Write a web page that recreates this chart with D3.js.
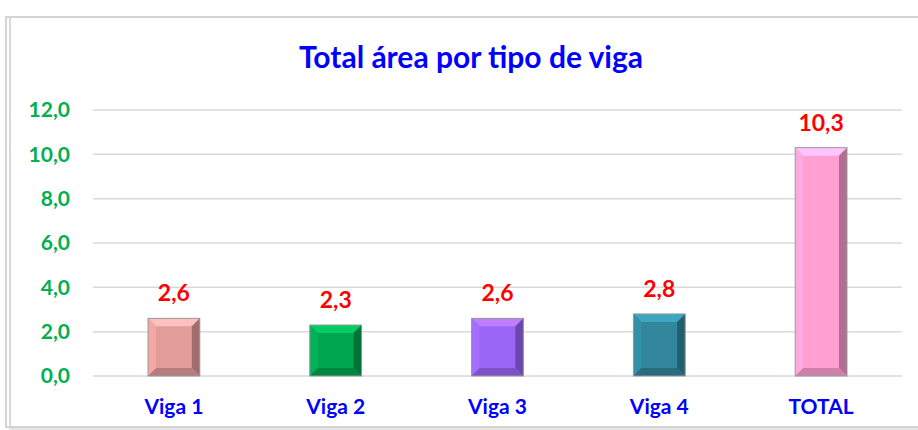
<!doctype html>
<html lang="es">
<head>
	<meta charset="UTF-8">
	<title>Total área por tipo de viga</title>
	<script src="https://d3js.org/d3.v7.min.js"></script>
	<style>
		body {
			margin: 0;
			padding: 0;
			background: #fff;
			font-family: Lato, "Open Sans", sans-serif;
		}
	</style>
</head>
<body>
	<div id="chart"></div>

	<script>
		// Data
		const categories = ['Viga 1', 'Viga 2', 'Viga 3', 'Viga 4', 'TOTAL'];
		const values = [2.6, 2.3, 2.6, 2.8, 10.3];
		const barColors = ['#E29C9A', '#00A650', '#9966F5', '#31869B', '#FF9FD2'];
		const yTicks = [0, 2, 4, 6, 8, 10, 12];

		const width = 918;
		const height = 430;

		const svg = d3.select('#chart')
			.append('svg')
			.attr('width', width)
			.attr('height', height);

		// Chart frame (Excel-like border with shadow)
		svg.append('rect')
			.attr('x', 9).attr('y', 20)
			.attr('width', 940).attr('height', 420)
			.attr('fill', '#e6e6e6');
		svg.append('rect')
			.attr('x', 6).attr('y', 17)
			.attr('width', 940).attr('height', 410)
			.attr('fill', '#fff')
			.attr('stroke', '#c8c8c8')
			.attr('stroke-width', 1.5);
		svg.append('line')
			.attr('x1', 10).attr('x2', 10)
			.attr('y1', 18).attr('y2', 426)
			.attr('stroke', '#d9d9d9')
			.attr('stroke-width', 2);

		// Title
		svg.append('text')
			.attr('x', 471)
			.attr('y', 68)
			.attr('text-anchor', 'middle')
			.attr('font-size', 30)
			.attr('font-weight', 'bold')
			.attr('fill', '#0000FF')
			.text('Total área por tipo de viga');

		// Scales
		const x = d3.scaleBand()
			.domain(categories)
			.range([93, 902])
			.paddingInner(0.68)
			.paddingOuter(0.34);

		const y = d3.scaleLinear()
			.domain([0, 12])
			.range([376, 110]);

		// Gridlines
		svg.append('g')
			.selectAll('line')
			.data(yTicks)
			.enter().append('line')
			.attr('x1', 93).attr('x2', 902)
			.attr('y1', d => y(d)).attr('y2', d => y(d))
			.attr('stroke', '#d9d9d9')
			.attr('stroke-width', 1.5);

		// Y axis labels
		const fmt = d => d.toFixed(1).replace('.', ',');
		svg.append('g')
			.selectAll('text')
			.data(yTicks)
			.enter().append('text')
			.attr('x', 70)
			.attr('y', d => y(d))
			.attr('dy', '0.35em')
			.attr('text-anchor', 'end')
			.attr('font-size', 21)
			.attr('font-weight', 'bold')
			.attr('fill', '#00B050')
			.text(fmt);

		// Beveled bars
		const bev = 8;
		const bars = svg.append('g')
			.selectAll('g')
			.data(values)
			.enter().append('g');

		bars.each(function (d, i) {
			const g = d3.select(this);
			const x0 = x(categories[i]);
			const w = x.bandwidth();
			const y0 = y(d);
			const y1 = y(0);
			const x1 = x0 + w;
			const c = d3.color(barColors[i]);
			const b = Math.min(bev, (y1 - y0) / 2);

			g.append('rect')
				.attr('x', x0).attr('y', y0)
				.attr('width', w).attr('height', y1 - y0)
				.attr('fill', c);

			const poly = (pts, fill) => g.append('polygon')
				.attr('points', pts.map(p => p.join(',')).join(' '))
				.attr('fill', fill);

			// top
			poly([[x0, y0], [x1, y0], [x1 - bev, y0 + b], [x0 + bev, y0 + b]], c.brighter(0.6));
			// left
			poly([[x0, y0], [x0 + bev, y0 + b], [x0 + bev, y1 - b], [x0, y1]], c.brighter(0.2));
			// right
			poly([[x1, y0], [x1, y1], [x1 - bev, y1 - b], [x1 - bev, y0 + b]], c.darker(1.0));
			// bottom
			poly([[x0, y1], [x0 + bev, y1 - b], [x1 - bev, y1 - b], [x1, y1]], c.darker(0.6));

			g.append('rect')
				.attr('x', x0).attr('y', y0)
				.attr('width', w).attr('height', y1 - y0)
				.attr('fill', 'none')
				.attr('stroke', '#9a9a9a')
				.attr('stroke-width', 1);
		});

		// Value labels
		svg.append('g')
			.selectAll('text')
			.data(values)
			.enter().append('text')
			.attr('x', (d, i) => x(categories[i]) + x.bandwidth() / 2)
			.attr('y', d => y(d) - 17)
			.attr('text-anchor', 'middle')
			.attr('font-size', 23)
			.attr('font-weight', 'bold')
			.attr('fill', '#FF0000')
			.text(fmt);

		// X axis labels
		svg.append('g')
			.selectAll('text')
			.data(categories)
			.enter().append('text')
			.attr('x', d => x(d) + x.bandwidth() / 2)
			.attr('y', 414)
			.attr('text-anchor', 'middle')
			.attr('font-size', 21)
			.attr('font-weight', 'bold')
			.attr('fill', '#0000FF')
			.text(d => d);
	</script>
</body>
</html>
